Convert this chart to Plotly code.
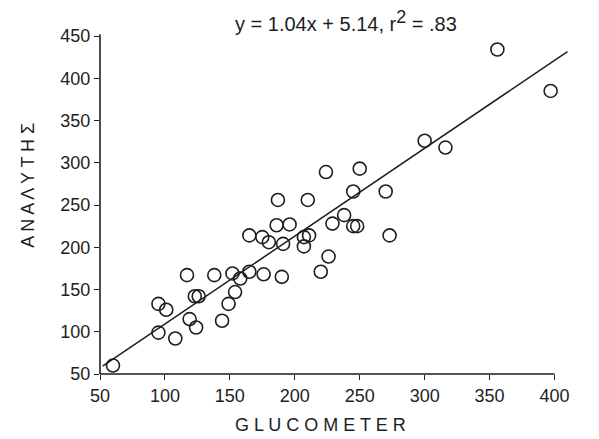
import plotly.graph_objects as go

# Paired glucose readings: meter (x) vs. laboratory analyser (y)
glucometer = [60, 95, 108, 95, 101, 117, 119, 124, 123, 126,
              138, 144, 149, 152, 154, 158, 165, 165, 175, 180,
              176, 187, 186, 196, 191, 190, 207, 211, 207, 210,
              220, 226, 224, 229, 238, 245, 248, 245, 250, 270,
              273, 300, 316, 356, 397]
analyser = [60, 99, 92, 133, 126, 167, 115, 105, 142, 142,
            167, 113, 133, 169, 147, 163, 214, 171, 212, 206,
            168, 256, 226, 227, 204, 165, 212, 214, 201, 256,
            171, 189, 289, 228, 238, 225, 225, 266, 293, 266,
            214, 326, 318, 434, 385]

# Least-squares fit as reported
slope = 1.04
intercept = 5.14
r_squared = 0.83
fit_x = [52, 410]
fit_y = [slope * v + intercept for v in fit_x]

x_ticks = [50, 100, 150, 200, 250, 300, 350, 400]
y_ticks = [50, 100, 150, 200, 250, 300, 350, 400, 450]
x_range = [50, 415]
y_range = [50, 450]

ink = "#1e1e1e"
font_family = "Liberation Sans, Arial, Helvetica, sans-serif"

fig = go.Figure()
fig.add_trace(go.Scatter(
    x=fit_x, y=fit_y, mode="lines",
    line=dict(color=ink, width=1.5),
    hoverinfo="skip", showlegend=False,
))
fig.add_trace(go.Scatter(
    x=glucometer, y=analyser, mode="markers",
    marker=dict(symbol="circle-open", size=13, color=ink,
                line=dict(color=ink, width=1.6)),
    cliponaxis=False, showlegend=False,
))

# Axis lines stop at the last labelled tick, while the fit line runs on past it
x_end = (x_ticks[-1] - x_range[0]) / (x_range[1] - x_range[0])
fig.add_shape(type="line", xref="paper", yref="paper",
              x0=0, x1=x_end, y0=0, y1=0, line=dict(color=ink, width=1.6))
fig.add_shape(type="line", xref="paper", yref="paper",
              x0=0, x1=0, y0=0, y1=1.005, line=dict(color=ink, width=1.6))

fig.add_annotation(
    xref="paper", yref="paper", x=0.52, y=1.045,
    text=(f"y = {slope:.2f}x + {intercept:.2f}, r"
          f"<sup><span style='font-size:18px'>2</span></sup> = {str(r_squared)[1:]}"),
    showarrow=False, xanchor="center", yanchor="middle",
    font=dict(family=font_family, size=20, color=ink),
)
fig.add_annotation(
    xref="paper", yref="paper", x=0.465, y=-0.15,
    text=" ".join("GLUCOMETER"),
    showarrow=False, xanchor="center", yanchor="middle",
    font=dict(family=font_family, size=18, color=ink),
)
fig.add_annotation(
    xref="paper", yref="paper", x=-0.152, y=0.56,
    text=" ".join("ΑΝΑΛΥΤΗΣ"), textangle=-90,
    showarrow=False, xanchor="center", yanchor="middle",
    font=dict(family=font_family, size=18, color=ink),
)

axis_common = dict(
    showgrid=False, zeroline=False, showline=False,
    ticks="outside", ticklen=5, tickwidth=1.3, tickcolor=ink,
    tickfont=dict(family=font_family, size=18, color=ink),
)
fig.update_xaxes(range=x_range, tickvals=x_ticks, **axis_common)
fig.update_yaxes(range=y_range, tickvals=y_ticks, **axis_common)

fig.update_layout(
    width=599, height=439,
    margin=dict(l=100, r=25, t=36, b=65),
    paper_bgcolor="white", plot_bgcolor="white",
)

fig.write_html("out.html")
